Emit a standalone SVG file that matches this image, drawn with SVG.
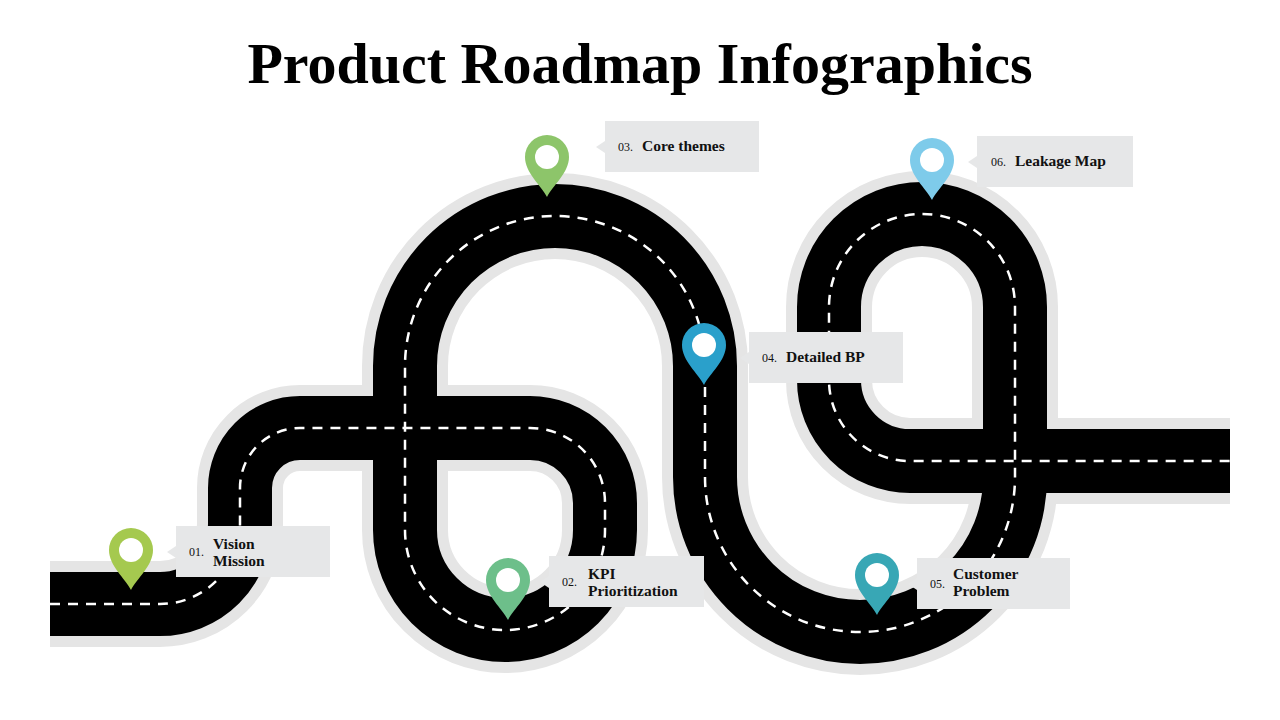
<svg xmlns="http://www.w3.org/2000/svg" width="1280" height="720" viewBox="0 0 1280 720">
<style>
.t{font-family:"Liberation Serif","DejaVu Serif",serif;font-weight:bold;fill:#000}
.n{font-family:"Liberation Serif","DejaVu Serif",serif;font-size:12px;fill:#111}
.l{font-family:"Liberation Serif","DejaVu Serif",serif;font-size:15.5px;font-weight:bold;fill:#111}
.box{fill:#e6e7e8}
</style>
<defs>
<path id="road" d="M50,604 H160 A80,80 0 0 0 240,524 V488 A60,60 0 0 1 300,428 H530 A75,75 0 0 1 605,503 V530 A100,100 0 0 1 405,530 V366 A150,150 0 0 1 705,366 V477 A155,155 0 0 0 1015,477 V307 A93,93 0 0 0 829,307 V380 A81,81 0 0 0 910,461 H1230" fill="none"/>
<path id="pin" d="M0,40 C-6,28 -22,16 -22,0 A22,22 0 0 1 22,0 C22,16 6,28 0,40 Z"/>
</defs>
<rect width="1280" height="720" fill="#fff"/>
<text class="t" x="640" y="83" font-size="58" text-anchor="middle">Product Roadmap Infographics</text>
<g id="connectors">
<use href="#road" stroke="#e5e5e5" stroke-width="86"/>
<use href="#road" stroke="#000" stroke-width="64"/>
<use href="#road" stroke="#fff" stroke-width="2.5" stroke-dasharray="10 8"/>
</g>
<g id="n1"><use href="#pin" x="131" y="550" fill="#a5c94f"/><circle cx="131" cy="550" r="12" fill="#fff"/>
<rect class="box" x="176" y="526" width="154" height="51"/><path class="box" d="M176,546 l-9,6 9,6z"/>
<text class="n" x="189" y="556">01.</text><text class="l" x="213" y="549">Vision</text><text class="l" x="213" y="566">Mission</text></g>
<g id="n2"><use href="#pin" x="508" y="580" fill="#6dbf8a"/><circle cx="508" cy="580" r="12" fill="#fff"/>
<rect class="box" x="549" y="556" width="155" height="51"/><path class="box" d="M549,576 l-9,6 9,6z"/>
<text class="n" x="562" y="586">02.</text><text class="l" x="588" y="579">KPI</text><text class="l" x="588" y="596">Prioritization</text></g>
<g id="n3"><use href="#pin" x="547" y="157" fill="#8dc56a"/><circle cx="547" cy="157" r="12" fill="#fff"/>
<rect class="box" x="605" y="121" width="154" height="51"/><path class="box" d="M605,141 l-9,6 9,6z"/>
<text class="n" x="618" y="151">03.</text><text class="l" x="642" y="151">Core themes</text></g>
<g id="n4"><use href="#pin" x="704" y="345" fill="#2aa0cb"/><circle cx="704" cy="345" r="12" fill="#fff"/>
<rect class="box" x="749" y="332" width="154" height="51"/><path class="box" d="M749,352 l-9,6 9,6z"/>
<text class="n" x="762" y="362">04.</text><text class="l" x="786" y="362">Detailed BP</text></g>
<g id="n5"><use href="#pin" x="877" y="575" fill="#38a7b5"/><circle cx="877" cy="575" r="12" fill="#fff"/>
<rect class="box" x="917" y="558" width="153" height="51"/><path class="box" d="M917,578 l-9,6 9,6z"/>
<text class="n" x="930" y="588">05.</text><text class="l" x="953" y="579">Customer</text><text class="l" x="953" y="596">Problem</text></g>
<g id="n6"><use href="#pin" x="932" y="160" fill="#7ecbea"/><circle cx="932" cy="160" r="12" fill="#fff"/>
<rect class="box" x="977" y="136" width="156" height="51"/><path class="box" d="M977,156 l-9,6 9,6z"/>
<text class="n" x="991" y="166">06.</text><text class="l" x="1015" y="166">Leakage Map</text></g>
</svg>
